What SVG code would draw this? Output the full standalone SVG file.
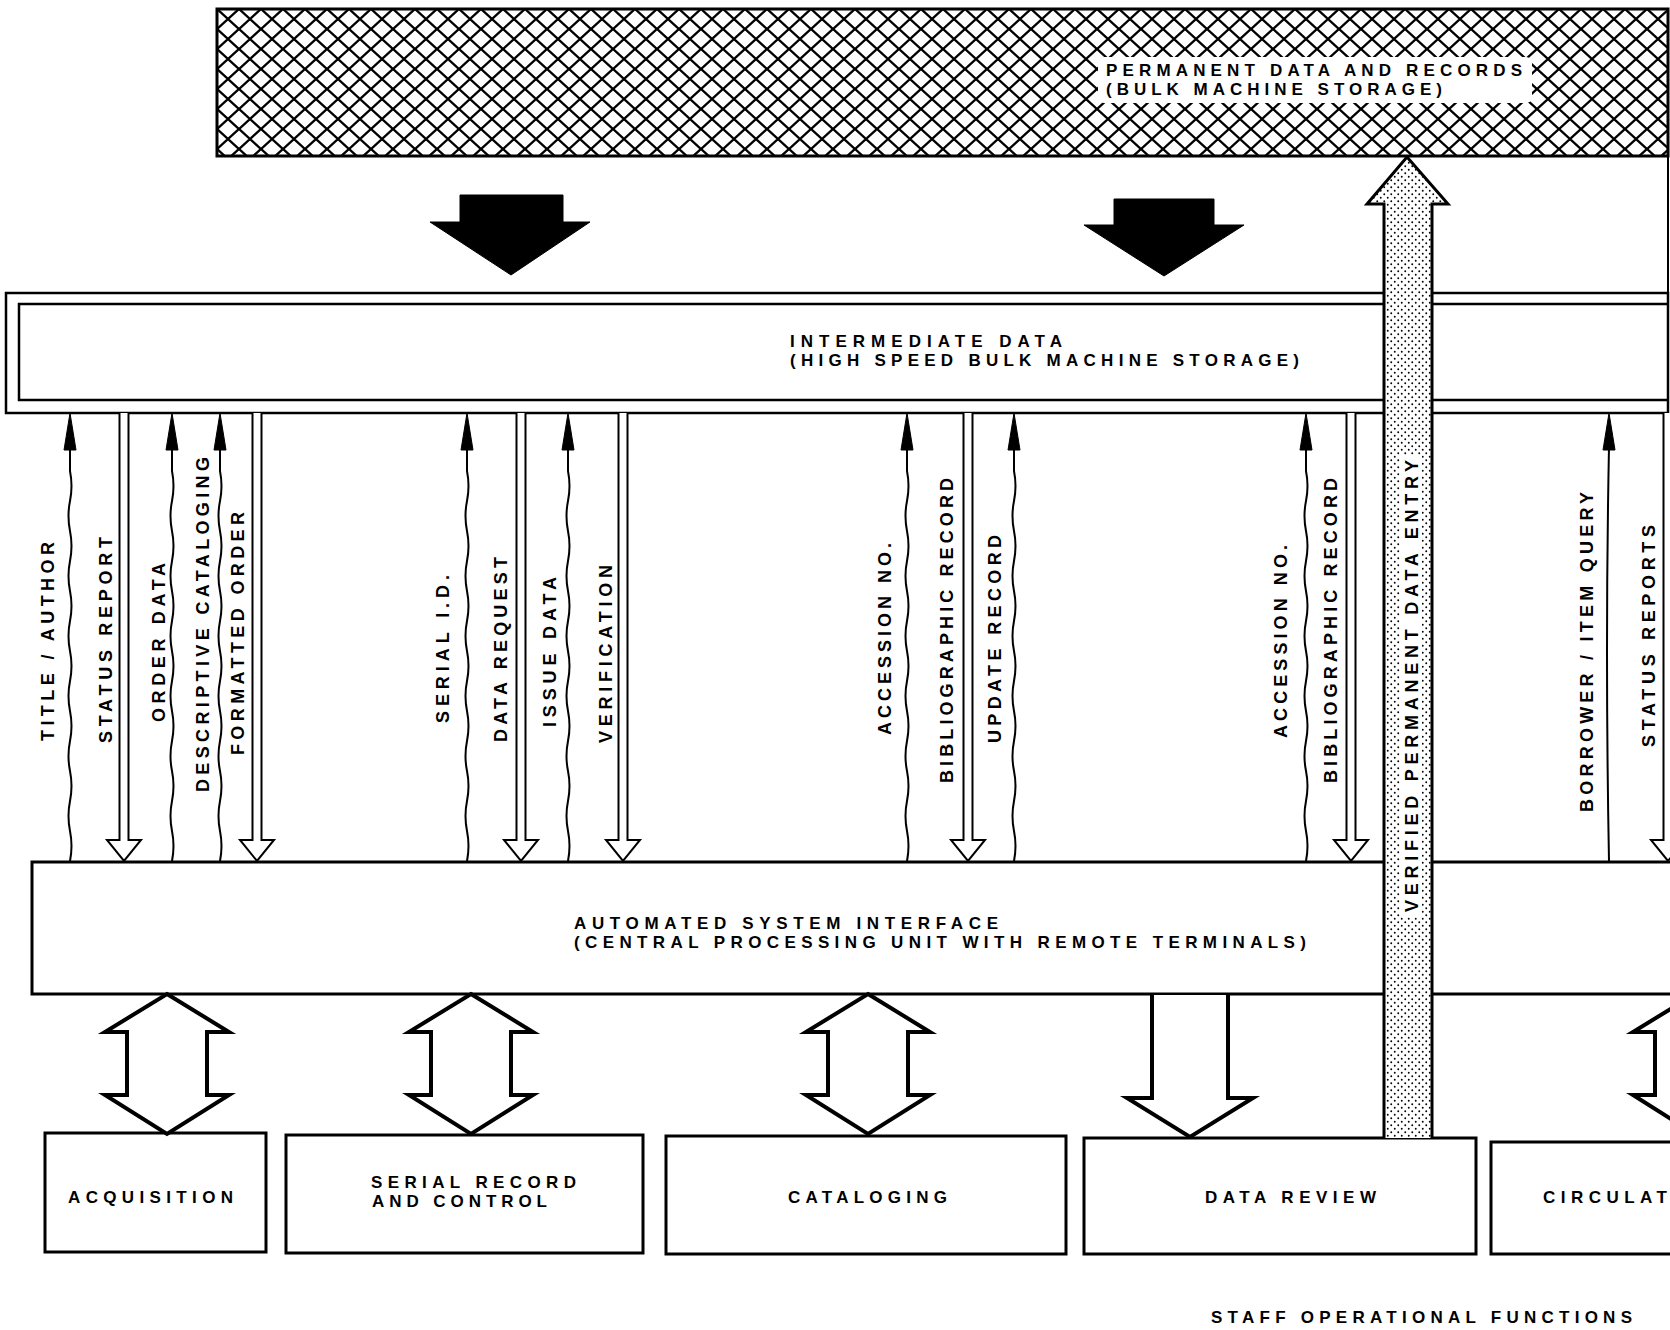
<svg xmlns="http://www.w3.org/2000/svg" width="1670" height="1330" viewBox="0 0 1670 1330">
<style>
.ln{fill:none;stroke:#000;stroke-width:2}
.box{fill:#fff;stroke:#000;stroke-width:3}
.t{font-family:"Liberation Sans",Arial,sans-serif;font-weight:bold;font-size:17px;fill:#000}
.v{font-size:18px}
.hol{fill:#fff;stroke:#000;stroke-width:4;stroke-linejoin:miter}
.dbl{fill:#fff;stroke:#000;stroke-width:2}
.blk{fill:#000;stroke:#000;stroke-width:1}
</style>
<defs>
<pattern id="hatch" patternUnits="userSpaceOnUse" x="217" y="9" width="22" height="20">
<path d="M0,0 L22,20 M22,0 L0,20" stroke="#000" stroke-width="2.4" fill="none"/>
</pattern>
<pattern id="dots" patternUnits="userSpaceOnUse" x="0" y="0" width="7" height="7">
<circle cx="1.75" cy="1.75" r="0.95" fill="#000"/>
<circle cx="5.25" cy="5.25" r="0.95" fill="#000"/>
</pattern>
<path id="wv" d="M0,861 q3,-15 0,-30 t0,-30 t0,-30 t0,-30 t0,-30 t0,-30 t0,-30 t0,-30 t0,-30 t0,-30 t0,-30 t0,-30 t0,-30 L0,447"/>
<path id="ah" d="M0,413 L6,450 L-6,450 Z"/>
<path id="dd" d="M-4.5,413 V840 H-17 L0,861 L17,840 H4.5 V413"/>
<path id="bi" d="M0,994 L62,1032 H40 V1095 H62 L0,1134 L-62,1095 H-40 V1032 H-62 Z"/>
</defs>
<rect width="1670" height="1330" fill="#fff"/>

<g id="permanent-data">
<rect x="217" y="9" width="1451" height="147" fill="#fff"/>
<rect x="217" y="9" width="1451" height="147" fill="url(#hatch)" stroke="#000" stroke-width="3"/>
<rect x="1098" y="57" width="434" height="46" rx="6" fill="#fff"/>
<text class="t" x="1106" y="76" textLength="416" lengthAdjust="spacing">PERMANENT DATA AND RECORDS</text>
<text class="t" x="1106" y="95" textLength="336" lengthAdjust="spacing">(BULK MACHINE STORAGE)</text>
<line class="ln" x1="1668" y1="156" x2="1668" y2="293"/>
</g>

<g id="intermediate-data">
<rect x="6" y="293" width="1662" height="120" fill="#fff" stroke="#000" stroke-width="2.5"/>
<path d="M1668,304 H19 V400 H1668" fill="none" stroke="#000" stroke-width="2.5"/>
<text class="t" x="790" y="347" textLength="272" lengthAdjust="spacing">INTERMEDIATE DATA</text>
<text class="t" x="790" y="366" textLength="509" lengthAdjust="spacing">(HIGH SPEED BULK MACHINE STORAGE)</text>
</g>

<g id="automated-system-interface">
<rect class="box" x="32" y="862" width="1660" height="132"/>
<text class="t" x="574" y="929" textLength="424" lengthAdjust="spacing">AUTOMATED SYSTEM INTERFACE</text>
<text class="t" x="574" y="948" textLength="732" lengthAdjust="spacing">(CENTRAL PROCESSING UNIT WITH REMOTE TERMINALS)</text>
</g>

<g id="acquisition">
<rect class="box" x="45" y="1133" width="221" height="119"/>
<text class="t" x="68" y="1203" textLength="165" lengthAdjust="spacing">ACQUISITION</text>
</g>
<g id="serial-record">
<rect class="box" x="286" y="1135" width="357" height="118"/>
<text class="t" x="371" y="1188" textLength="205" lengthAdjust="spacing">SERIAL RECORD</text>
<text class="t" x="372" y="1207" textLength="175" lengthAdjust="spacing">AND CONTROL</text>
</g>
<g id="cataloging">
<rect class="box" x="666" y="1136" width="400" height="118"/>
<text class="t" x="788" y="1203" textLength="159" lengthAdjust="spacing">CATALOGING</text>
</g>
<g id="data-review">
<rect class="box" x="1084" y="1138" width="392" height="116"/>
<text class="t" x="1205" y="1203" textLength="171" lengthAdjust="spacing">DATA REVIEW</text>
</g>
<g id="circulation">
<rect class="box" x="1491" y="1142" width="200" height="112"/>
<text class="t" x="1543" y="1203" textLength="124" lengthAdjust="spacing">CIRCULAT</text>
</g>
<g id="staff-functions">
<text class="t" x="1211" y="1323" textLength="421" lengthAdjust="spacing">STAFF OPERATIONAL FUNCTIONS</text>
</g>

<g id="connectors">
<path class="blk" d="M460,195 H563 V222 H590 L511,275 L430,222 H460 Z"/>
<path class="blk" d="M1114,199 H1214 V225 H1244 L1164,276 L1084,225 H1114 Z"/>

<g class="ln">
<use href="#wv" x="70"/><use href="#wv" x="172"/><use href="#wv" x="220"/>
<use href="#wv" x="467"/><use href="#wv" x="568"/>
<use href="#wv" x="907"/><use href="#wv" x="1014"/>
<use href="#wv" x="1306"/>
<path d="M1609,861 Q1605,650 1609,447"/>
</g>
<g class="blk">
<use href="#ah" x="70"/><use href="#ah" x="172"/><use href="#ah" x="220"/>
<use href="#ah" x="467"/><use href="#ah" x="568"/>
<use href="#ah" x="907"/><use href="#ah" x="1014"/>
<use href="#ah" x="1306"/><use href="#ah" x="1609"/>
</g>
<g class="dbl">
<use href="#dd" x="124"/><use href="#dd" x="257"/>
<use href="#dd" x="521"/><use href="#dd" x="623"/>
<use href="#dd" x="968"/><use href="#dd" x="1351"/><use href="#dd" x="1668"/>
</g>
<g class="hol">
<use href="#bi" x="167"/><use href="#bi" x="471"/><use href="#bi" x="868"/><use href="#bi" x="1695"/>
<path d="M1152,995 V1098 H1127 L1190,1137 L1253,1098 H1228 V995"/>
</g>
<path d="M1384,1138 V204 H1367 L1407,157 L1448,204 H1432 V1138 Z" fill="#fff"/>
<path d="M1384,1138 V204 H1367 L1407,157 L1448,204 H1432 V1138" fill="url(#dots)" stroke="#000" stroke-width="3"/>
<rect x="1400" y="455" width="22" height="462" fill="#fff"/>
</g>

<g id="labels">
<text class="t v" transform="translate(53.5,741) rotate(-90)" textLength="199" lengthAdjust="spacing">TITLE / AUTHOR</text>
<text class="t v" transform="translate(111.5,743) rotate(-90)" textLength="206" lengthAdjust="spacing">STATUS REPORT</text>
<text class="t v" transform="translate(164.5,722) rotate(-90)" textLength="159" lengthAdjust="spacing">ORDER DATA</text>
<text class="t v" transform="translate(208.5,792) rotate(-90)" textLength="335" lengthAdjust="spacing">DESCRIPTIVE CATALOGING</text>
<text class="t v" transform="translate(243.5,755) rotate(-90)" textLength="243" lengthAdjust="spacing">FORMATTED ORDER</text>
<text class="t v" transform="translate(448.5,723) rotate(-90)" textLength="148" lengthAdjust="spacing">SERIAL I.D.</text>
<text class="t v" transform="translate(506.5,742) rotate(-90)" textLength="185" lengthAdjust="spacing">DATA REQUEST</text>
<text class="t v" transform="translate(555.5,727) rotate(-90)" textLength="150" lengthAdjust="spacing">ISSUE DATA</text>
<text class="t v" transform="translate(611.5,743) rotate(-90)" textLength="178" lengthAdjust="spacing">VERIFICATION</text>
<text class="t v" transform="translate(890.5,735) rotate(-90)" textLength="192" lengthAdjust="spacing">ACCESSION NO.</text>
<text class="t v" transform="translate(952.5,783) rotate(-90)" textLength="305" lengthAdjust="spacing">BIBLIOGRAPHIC RECORD</text>
<text class="t v" transform="translate(1000.5,743) rotate(-90)" textLength="208" lengthAdjust="spacing">UPDATE RECORD</text>
<text class="t v" transform="translate(1286.5,738) rotate(-90)" textLength="193" lengthAdjust="spacing">ACCESSION NO.</text>
<text class="t v" transform="translate(1336.5,783) rotate(-90)" textLength="305" lengthAdjust="spacing">BIBLIOGRAPHIC RECORD</text>
<text class="t v" transform="translate(1417.5,912) rotate(-90)" textLength="452" lengthAdjust="spacing">VERIFIED PERMANENT DATA ENTRY</text>
<text class="t v" transform="translate(1592.5,812) rotate(-90)" textLength="320" lengthAdjust="spacing">BORROWER / ITEM QUERY</text>
<text class="t v" transform="translate(1654.5,747) rotate(-90)" textLength="222" lengthAdjust="spacing">STATUS REPORTS</text>
</g>
</svg>
